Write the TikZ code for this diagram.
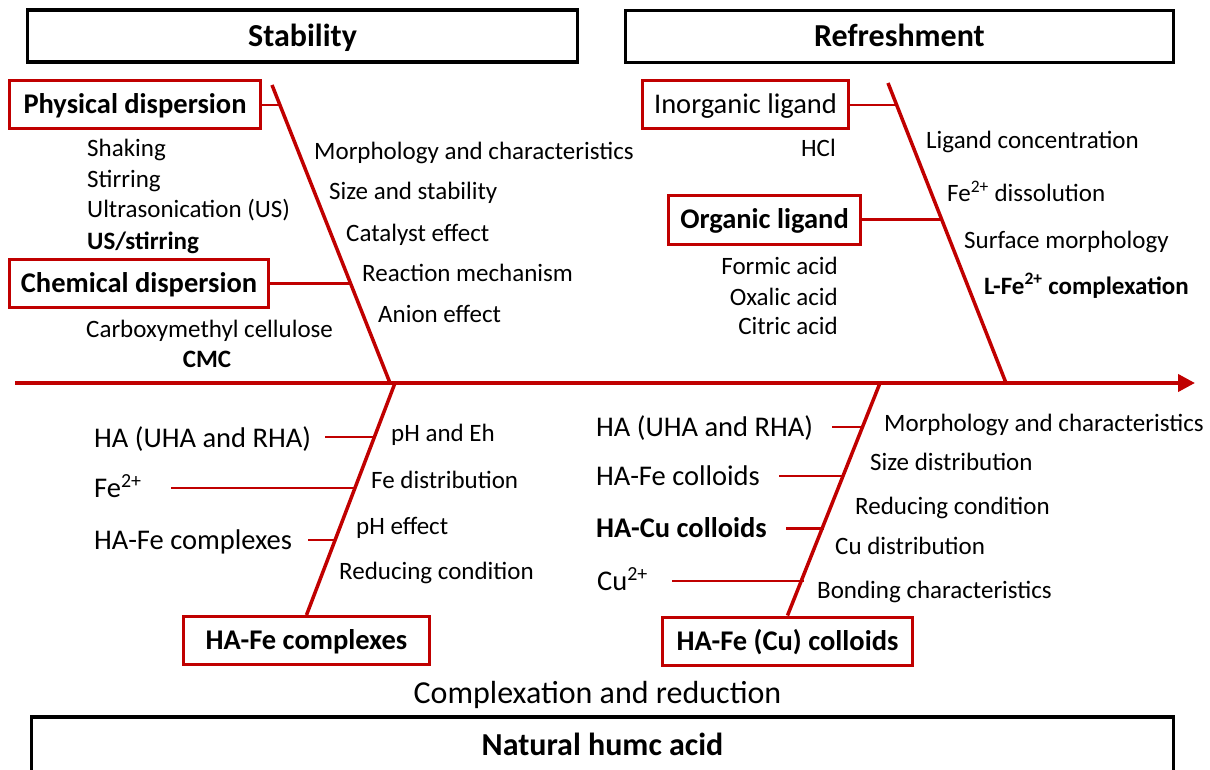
\documentclass[tikz,border=0pt]{standalone}
\usepackage{fontspec}
\setmainfont{Carlito}
\usetikzlibrary{arrows.meta}
\definecolor{fbred}{RGB}{192,0,0}
\begin{document}
\begin{tikzpicture}[x=1pt,y=-1pt,
  titlebox/.style={draw=black, line width=3.5pt, inner sep=0pt, minimum width=#1, minimum height=52pt, text height=21pt, text depth=0pt, font=\fontsize{32}{38}\selectfont\bfseries},
  rbox/.style={draw=fbred, line width=3pt, inner sep=0pt, minimum width=#1, minimum height=48pt, text height=18.5pt, text depth=0.5pt, font=\fontsize{28.5}{34}\selectfont},
  lbl/.style={inner sep=0pt, anchor=base west, font=\fontsize{25}{30}\selectfont},
  lbig/.style={inner sep=0pt, anchor=base west, font=\fontsize{28.5}{34}\selectfont},
  bone/.style={draw=fbred, line width=3.5pt},
  conn/.style={draw=fbred, line width=2.5pt},
  spine/.style={draw=fbred, line width=4pt, -{Triangle[length=17pt,width=17pt]}}
]
\useasboundingbox (0,0) rectangle (1210,770);
\clip (0,0) rectangle (1210,770);

% ---- title boxes
\node[titlebox=550pt] (stab) at (302.5,36) {Stability};
\node[titlebox=548pt] (refr) at (899.5,36.5) {Refreshment};
\node[titlebox=1142pt, minimum height=56pt] (nha) at (602.5,745) {Natural humc acid};
\node[inner sep=0pt, anchor=base, font=\fontsize{32}{38}\selectfont] (cr) at (597.5,703) {Complexation and reduction};

% ---- spine
\coordinate (sp0) at (15,383);
\coordinate (sp1) at (1195,383);
\draw[spine] (sp0) -- (sp1);

% ---- Stability bone
\coordinate (d1t) at (272,85);
\coordinate (d1b) at (390,383);
\draw[bone] (d1t) -- (d1b);
\node[rbox=251pt, font=\fontsize{28.5}{34}\selectfont\bfseries] (pd) at (135,105) {Physical dispersion};
\node[rbox=259pt, font=\fontsize{28.5}{34}\selectfont\bfseries] (cd) at (139,283) {Chemical dispersion};
\coordinate (jpd) at (280,105);
\coordinate (jcd) at (350.4,283);
\draw[conn] (pd.east) -- (jpd);
\draw[conn, line width=3pt] (cd.east) -- (jcd);

\node[lbl] (shk) at (87,157) {Shaking};
\node[lbl] (stir) at (87,188) {Stirring};
\node[lbl] (us) at (87,218) {Ultrasonication (US)};
\node[lbl] (uss) at (87,249) {\bfseries US/stirring};
\node[lbl] (cmcl) at (86,337) {Carboxymethyl cellulose};
\node[lbl, anchor=base] (cmc) at (207,367) {\bfseries CMC};

\node[lbl] (m1) at (314,160) {Morphology and characteristics};
\node[lbl] (s1) at (329,200) {Size and stability};
\node[lbl] (c1) at (346,241) {Catalyst effect};
\node[lbl] (r1) at (362,281) {Reaction mechanism};
\node[lbl] (a1) at (378,322) {Anion effect};

% ---- Refreshment bone
\coordinate (d2t) at (888,83);
\coordinate (d2b) at (1006,383);
\draw[bone] (d2t) -- (d2b);
\node[rbox=206pt] (il) at (745.5,105) {Inorganic ligand};
\node[rbox=192pt, font=\fontsize{28.5}{34}\selectfont\bfseries] (ol) at (764.5,220) {Organic ligand};
\coordinate (jil) at (897,105);
\coordinate (jol) at (942,220);
\draw[conn] (il.east) -- (jil);
\draw[conn, line width=3pt] (ol.east) -- (jol);

\node[lbl, anchor=base east] (hcl) at (836,157) {HCl};
\node[lbl, anchor=base east] (form) at (838,274) {Formic acid};
\node[lbl, anchor=base east] (oxal) at (838,305) {Oxalic acid};
\node[lbl, anchor=base east] (citr) at (838,334) {Citric acid};

\node[lbl] (lc) at (926,149) {Ligand concentration};
\node[lbl] (fdis) at (947,202) {Fe\textsuperscript{2+} dissolution};
\node[lbl] (sm) at (964,248) {Surface morphology};
\node[lbl] (lfe) at (984,294) {\bfseries L-Fe\textsuperscript{2+} complexation};

% ---- HA-Fe complexes bone
\node[rbox=246pt, font=\fontsize{28.5}{34}\selectfont\bfseries] (hfc) at (306.5,640.5) {HA-Fe complexes};
\coordinate (d3t) at (395,383);
\draw[bone] (d3t) -- (hfc.north);

\node[lbig] (ha1) at (94,447) {HA (UHA and RHA)};
\node[lbig] (fe1) at (94,497) {Fe\textsuperscript{2+}};
\node[lbig] (hafe) at (94,549) {HA-Fe complexes};
\coordinate (ha1s) at (325,437);
\coordinate (fe1s) at (171,488);
\coordinate (hafes) at (308,540);
\coordinate (jha1) at (374.1,437);
\coordinate (jfe1) at (354.3,488);
\coordinate (jhafe) at (334.1,540);
\draw[conn, line width=2pt] (ha1s) -- (jha1);
\draw[conn, line width=2pt] (fe1s) -- (jfe1);
\draw[conn, line width=2pt] (hafes) -- (jhafe);

\node[lbl] (phe) at (391,441) {pH and Eh};
\node[lbl] (fdi) at (371,488) {Fe distribution};
\node[lbl] (phf) at (356,534) {pH effect};
\node[lbl] (rc1) at (339,579) {Reducing condition};

% ---- HA-Fe (Cu) colloids bone
\node[rbox=250pt, font=\fontsize{28.5}{34}\selectfont\bfseries] (hcc) at (787.5,641) {HA-Fe (Cu) colloids};
\coordinate (d4t) at (880,383);
\draw[bone] (d4t) -- (hcc.north);

\node[lbig] (ha2) at (596,436) {HA (UHA and RHA)};
\node[lbig] (hafc) at (596,485) {HA-Fe colloids};
\node[lbig] (hacu) at (596,537) {\bfseries HA-Cu colloids};
\node[lbig] (cu) at (597,590) {Cu\textsuperscript{2+}};
\coordinate (ha2s) at (832,427);
\coordinate (hafcs) at (779,476);
\coordinate (hacus) at (786,528);
\coordinate (cus) at (672,581);
\coordinate (jha2) at (863,427);
\coordinate (jhafc) at (844.1,476);
\coordinate (jhacu) at (824,528);
\coordinate (jcu) at (803.5,581);
\draw[conn] (ha2s) -- (jha2);
\draw[conn] (hafcs) -- (jhafc);
\draw[conn, line width=3pt] (hacus) -- (jhacu);
\draw[conn] (cus) -- (jcu);

\node[lbl] (m2) at (884,431) {Morphology and characteristics};
\node[lbl] (sd) at (870,470) {Size distribution};
\node[lbl] (rc2) at (855,514) {Reducing condition};
\node[lbl] (cud) at (835,554) {Cu distribution};
\node[lbl] (bc) at (817,598) {Bonding characteristics};
\end{tikzpicture}
\end{document}
